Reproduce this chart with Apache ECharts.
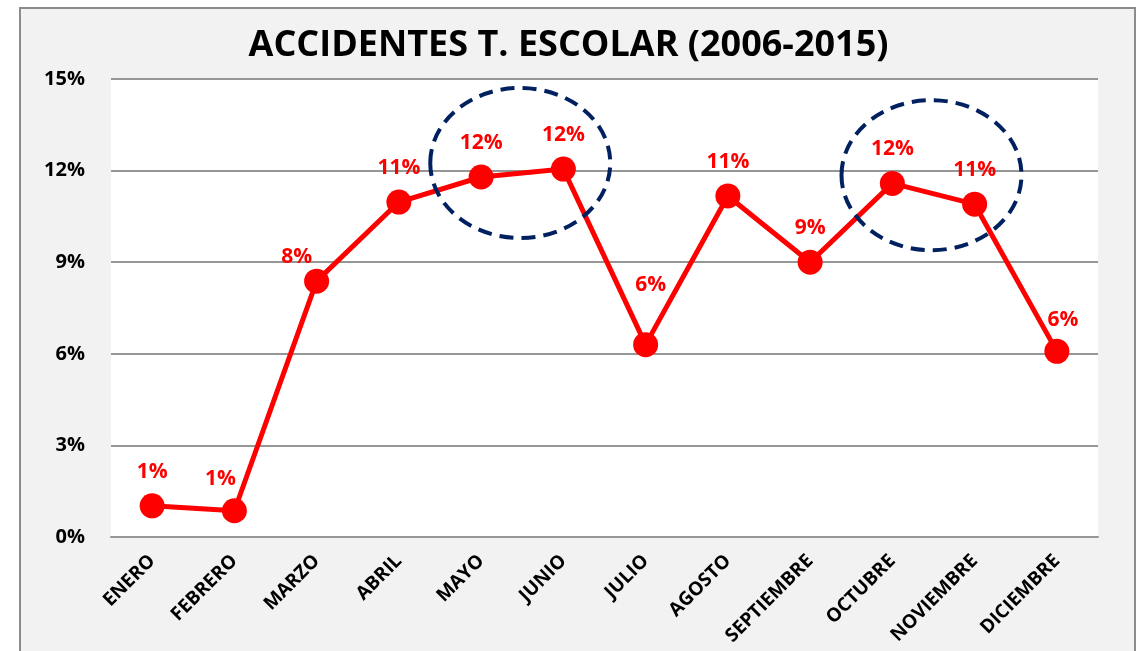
<!DOCTYPE html>
<html>
<head>
<meta charset="utf-8">
<script src="https://cdn.jsdelivr.net/npm/echarts@6/dist/echarts.min.js"></script>
<style>
  html, body { margin: 0; padding: 0; background: #fff; }
  #chart { width: 1137px; height: 651px; }
</style>
</head>
<body>
<div id="chart"></div>
<script>
// meses
const months = ['ENERO', 'FEBRERO', 'MARZO', 'ABRIL', 'MAYO', 'JUNIO', 'JULIO',
  'AGOSTO', 'SEPTIEMBRE', 'OCTUBRE', 'NOVIEMBRE', 'DICIEMBRE'];
// % de accidentes por mes
const accidentPct = [1.02, 0.86, 8.38, 10.97, 11.79, 12.05, 6.3, 11.17, 9.0, 11.58, 10.9, 6.08];
// eje Y
const yTicks = { min: 0, max: 15, step: 3 };
// meses destacados con la elipse punteada
const highlights = [['MAYO', 'JUNIO'], ['OCTUBRE', 'NOVIEMBRE']];
const highlightLevel = [12.25, 11.85];

// pequeños ajustes de las etiquetas (como en la hoja original)
const labelNudge = { 1: [-14, 2], 2: [-20, 10], 6: [5, -26], 11: [6, 3] };

const FONT = '"Open Sans", "Liberation Sans", sans-serif';
const red = '#ff0000';
const gridGray = '#969696';
const navy = '#002060';

const chart = echarts.init(document.getElementById('chart'));

const seriesData = accidentPct.map((v, i) => {
  const item = { value: v };
  if (labelNudge[i]) item.label = { offset: labelNudge[i] };
  return item;
});

chart.setOption({
  animation: false,
  backgroundColor: '#fff',
  title: {
    text: 'ACCIDENTES T. ESCOLAR (2006-2015)',
    left: 'center',
    top: 23,
    textStyle: { fontFamily: FONT, fontSize: 36, fontWeight: 'bold', color: '#000' }
  },
  grid: {
    show: true,
    left: 111,
    right: 39,
    top: 79,
    bottom: 114,
    backgroundColor: '#fff',
    borderWidth: 0
  },
  xAxis: {
    type: 'category',
    data: months,
    boundaryGap: true,
    axisLine: { lineStyle: { color: gridGray, width: 2 } },
    axisTick: { show: false },
    axisLabel: {
      rotate: 45,
      margin: 21,
      interval: 0,
      color: '#000',
      fontFamily: FONT,
      fontWeight: 'bold',
      fontSize: 19
    }
  },
  yAxis: {
    type: 'value',
    min: yTicks.min,
    max: yTicks.max,
    interval: yTicks.step,
    axisLine: { show: false },
    axisTick: { show: false },
    splitLine: { lineStyle: { color: gridGray, width: 2 } },
    axisLabel: {
      formatter: '{value}%',
      margin: 26,
      color: '#000',
      fontFamily: FONT,
      fontWeight: 'bold',
      fontSize: 20
    }
  },
  series: [{
    type: 'line',
    data: seriesData,
    symbol: 'circle',
    symbolSize: 25,
    lineStyle: { color: red, width: 5 },
    itemStyle: { color: red },
    label: {
      show: true,
      position: 'top',
      distance: 11,
      color: red,
      fontFamily: FONT,
      fontWeight: 'bold',
      fontSize: 21,
      formatter: (p) => Math.round(p.value) + '%'
    }
  }]
});

// marco gris de fondo + elipses punteadas (posiciones desde las escalas)
const frame = {
  type: 'rect',
  z: -10,
  shape: { x: 20, y: 8, width: 1115, height: 660 },
  style: { fill: '#f2f2f2', stroke: '#8c8c8c', lineWidth: 2 }
};
const ellipses = highlights.map((pair, k) => {
  const a = chart.convertToPixel({ xAxisIndex: 0 }, pair[0]);
  const b = chart.convertToPixel({ xAxisIndex: 0 }, pair[1]);
  const cy = chart.convertToPixel({ yAxisIndex: 0 }, highlightLevel[k]);
  return {
    type: 'ellipse',
    z: 100,
    shape: { cx: (a + b) / 2 - 2, cy: cy, rx: 90, ry: 75 },
    style: { fill: null, stroke: navy, lineWidth: 4, lineDash: [14, 8] }
  };
});
chart.setOption({ graphic: [frame].concat(ellipses) });
</script>
</body>
</html>
